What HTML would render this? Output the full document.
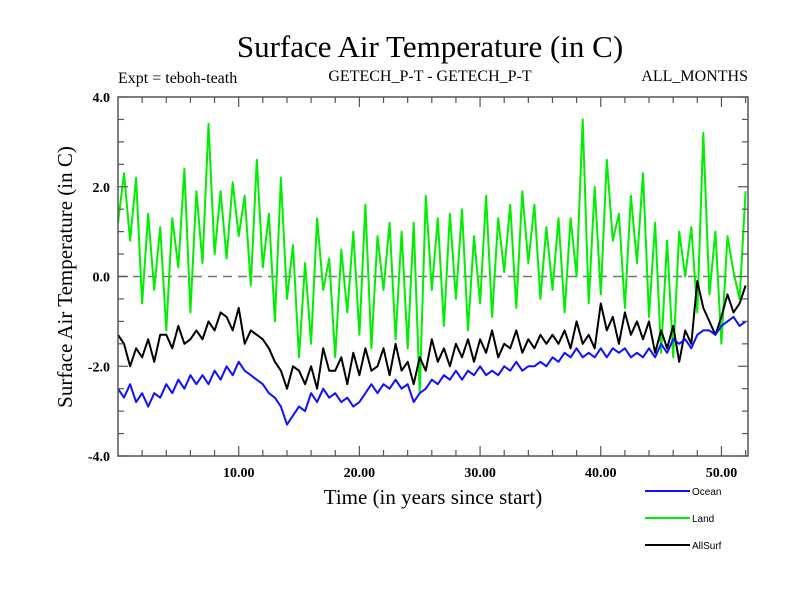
<!DOCTYPE html>
<html><head><meta charset="utf-8"><style>
body{margin:0;background:#fff}
svg text{font-family:"Liberation Serif",serif}
</style></head><body>
<svg id="c" width="800" height="600" xmlns="http://www.w3.org/2000/svg">
<text x="430" y="57" font-size="31" text-anchor="middle">Surface Air Temperature (in C)</text>
<text x="118" y="83" font-size="16">Expt = teboh-teath</text>
<text x="430" y="81" font-size="16" text-anchor="middle">GETECH_P-T - GETECH_P-T</text>
<text x="748" y="81" font-size="16" text-anchor="end">ALL_MONTHS</text>
<text x="433" y="504" font-size="21" text-anchor="middle">Time (in years since start)</text>
<text transform="translate(72,277) rotate(-90)" font-size="21" text-anchor="middle">Surface Air Temperature (in C)</text>
<g id="plot"></g>
<g id="legend"></g>
</svg>
<script>
const ticksY = [4, 2, 0, -2, -4];
const tickLabelsY = ["4.0", "2.0", "0.0", "-2.0", "-4.0"];
const ticksX = [10, 20, 30, 40, 50];
const tickLabelsX = ["10.00", "20.00", "30.00", "40.00", "50.00"];
const seriesNames = ["Ocean", "Land", "AllSurf"];
const stepYears = 0.5;
const ocean = [-2.5,-2.7,-2.4,-2.8,-2.6,-2.9,-2.6,-2.7,-2.4,-2.6,
-2.3,-2.5,-2.2,-2.4,-2.2,-2.4,-2.1,-2.3,-2.0,-2.2,
-1.9,-2.1,-2.2,-2.3,-2.4,-2.6,-2.7,-2.9,-3.3,-3.1,
-2.9,-3.0,-2.6,-2.8,-2.5,-2.7,-2.6,-2.8,-2.7,-2.9,
-2.8,-2.6,-2.4,-2.6,-2.4,-2.5,-2.3,-2.5,-2.4,-2.8,
-2.6,-2.5,-2.3,-2.4,-2.2,-2.3,-2.1,-2.3,-2.1,-2.2,
-2.0,-2.2,-2.1,-2.2,-2.0,-2.1,-1.9,-2.1,-2.0,-2.0,
-1.9,-2.0,-1.8,-1.9,-1.7,-1.8,-1.6,-1.8,-1.7,-1.8,
-1.6,-1.8,-1.6,-1.7,-1.6,-1.8,-1.7,-1.8,-1.6,-1.8,
-1.5,-1.7,-1.4,-1.5,-1.4,-1.6,-1.3,-1.2,-1.2,-1.3,
-1.1,-1.0,-0.9,-1.1,-1.0];
const land = [1.2,2.3,0.8,2.2,-0.6,1.4,-0.3,1.1,-1.2,1.3,
0.2,2.4,-0.8,1.9,0.3,3.4,0.5,1.9,0.4,2.1,
0.9,1.8,-0.2,2.6,0.2,1.4,-1.0,2.2,-0.5,0.7,
-1.8,0.3,-1.5,1.3,-0.3,0.4,-1.8,0.6,-0.8,1.0,
-1.3,1.6,-1.6,0.9,-0.3,1.2,-1.4,1.0,-1.6,1.2,
-2.6,1.8,-0.3,1.3,-1.1,1.4,-0.5,1.5,-1.2,0.9,
-0.6,1.8,-0.9,1.3,0.1,1.6,-0.7,1.9,0.3,1.6,
-0.5,1.1,-0.3,1.3,-0.8,1.3,0.0,3.5,-0.6,2.0,
-0.4,2.6,0.8,1.4,-0.7,1.8,0.3,2.3,-0.9,1.2,
-1.7,0.8,-1.8,1.0,0.0,1.1,-0.8,3.2,-0.4,1.0,
-1.5,0.9,0.1,-0.5,1.9];
const allSurf = [-1.3,-1.5,-2.0,-1.6,-1.8,-1.4,-1.9,-1.3,-1.3,-1.6,
-1.1,-1.5,-1.4,-1.2,-1.4,-1.0,-1.2,-0.8,-0.9,-1.2,
-0.7,-1.5,-1.2,-1.3,-1.4,-1.6,-1.9,-2.1,-2.5,-2.0,
-2.1,-2.4,-2.0,-2.5,-1.6,-2.1,-2.1,-1.8,-2.4,-1.7,
-2.2,-1.6,-2.1,-2.0,-1.6,-2.2,-1.5,-2.1,-1.9,-2.4,
-1.8,-2.1,-1.4,-1.9,-1.6,-2.0,-1.5,-1.8,-1.4,-1.9,
-1.4,-1.7,-1.2,-1.8,-1.5,-1.6,-1.2,-1.7,-1.4,-1.6,
-1.3,-1.5,-1.3,-1.5,-1.2,-1.6,-1.0,-1.5,-1.3,-1.6,
-0.6,-1.2,-0.9,-1.5,-0.8,-1.3,-1.0,-1.4,-1.0,-1.7,
-1.2,-1.6,-1.1,-1.9,-1.2,-1.5,-0.1,-0.7,-1.0,-1.3,
-0.9,-0.4,-0.8,-0.6,-0.2];

const NS="http://www.w3.org/2000/svg";
const L=118,R=748,T=97,B=456, xMax=52.2, yMin=-4, yMax=4;
const xs=v=>L+(v/xMax)*(R-L);
const ys=v=>B-(v-yMin)/(yMax-yMin)*(B-T);
const plot=document.getElementById('plot');
function mk(tag,attrs,parent){const e=document.createElementNS(NS,tag);for(const k in attrs)e.setAttribute(k,attrs[k]);(parent||plot).appendChild(e);return e;}

const zl=mk('line',{x1:L,x2:R,y1:ys(0),y2:ys(0),stroke:'#777','stroke-width':1.5,'stroke-dasharray':'9,6'});



function series(arr,color,name){
  const d=arr.map((v,i)=>(i?'L':'M')+xs(i*stepYears).toFixed(1)+','+ys(v).toFixed(1)).join('');
  const p=mk('path',{d:d,fill:'none',stroke:color,'stroke-width':2,'stroke-linejoin':'round'});
  
  
}
series(land,'#00ee00','land-line');
series(allSurf,'#000','allsurf-line');
series(ocean,'#1010ff','ocean-line');

const fr=mk('rect',{x:L,y:T,width:R-L,height:B-T,fill:'none',stroke:'#555','stroke-width':1.5});


// minor/major ticks
for(let v=-4;v<=4.001;v+=0.5){
  const major=Math.abs(v%2)<0.01; const len=major?10:6; const y=ys(v);
  mk('line',{x1:L,x2:L+len,y1:y,y2:y,stroke:'#555','stroke-width':1.2});
  mk('line',{x1:R,x2:R-len,y1:y,y2:y,stroke:'#555','stroke-width':1.2});
}
for(let v=2;v<=52;v+=2){
  const major=v%10===0; const len=major?10:6; const x=xs(v);
  mk('line',{x1:x,x2:x,y1:B,y2:B-len,stroke:'#555','stroke-width':1.2});
  mk('line',{x1:x,x2:x,y1:T,y2:T+len,stroke:'#555','stroke-width':1.2});
}
ticksY.forEach((v,i)=>{
  const t=mk('text',{x:L-8,y:ys(v)+5,'font-size':14,'font-weight':'bold','text-anchor':'end'});
  t.textContent=tickLabelsY[i];
  
  
});
ticksX.forEach((v,i)=>{
  const t=mk('text',{x:xs(v),y:477,'font-size':14,'font-weight':'bold','text-anchor':'middle'});
  t.textContent=tickLabelsX[i];
  
  
});
const lg=document.getElementById('legend');
const lcolors=['#1010ff','#00ee00','#000'];
seriesNames.forEach((n,i)=>{
  const y=491+i*27;
  const g=mk('g',{},lg);
  
  
  mk('line',{x1:645,x2:690,y1:y,y2:y,stroke:lcolors[i],'stroke-width':2},g);
  const t=mk('text',{x:692,y:y+4,'font-size':10,style:'font-family:"Liberation Sans",sans-serif'},g);
  t.textContent=n;
});
</script>
</body></html>
